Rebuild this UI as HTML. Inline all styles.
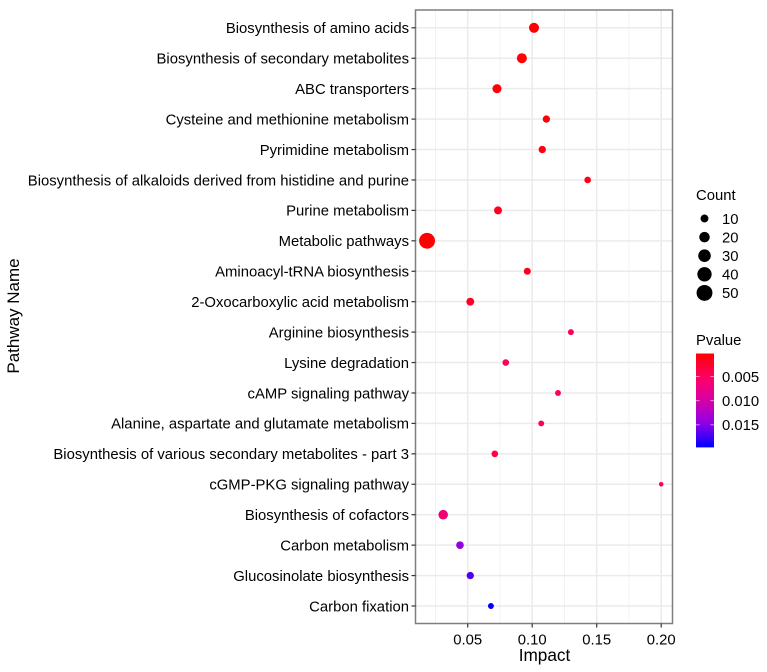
<!DOCTYPE html>
<html>
<head>
<meta charset="utf-8">
<title>Pathway enrichment bubble chart</title>
<style>
html,body{margin:0;padding:0;background:#fff;}
svg{display:block;font-family:"Liberation Sans",Arial,sans-serif;}
</style>
</head>
<body>
<svg id="chart" width="767" height="672" viewBox="0 0 767 672" xmlns="http://www.w3.org/2000/svg">
  <rect x="0" y="0" width="767" height="672" fill="#ffffff"/>
  <g id="grid"></g>
  <g id="points"></g>
  <rect x="415.5" y="10" width="257" height="613.5" fill="none" stroke="#7f7f7f" stroke-width="1.5"/>
  <g id="yaxis"></g>
  <g id="xaxis"></g>
  <text transform="translate(19,316) rotate(-90)" text-anchor="middle" font-size="17" fill="#000">Pathway Name</text>
  <text x="544.5" y="661" text-anchor="middle" font-size="17.2" fill="#000">Impact</text>
  <g id="size-legend">
    <text x="696" y="200" font-size="14.85" fill="#000">Count</text>
  </g>
  <g id="color-legend">
    <text x="696" y="345" font-size="14.85" fill="#000">Pvalue</text>
  </g>
</svg>
<script>
const categories = [
  "Biosynthesis of amino acids",
  "Biosynthesis of secondary metabolites",
  "ABC transporters",
  "Cysteine and methionine metabolism",
  "Pyrimidine metabolism",
  "Biosynthesis of alkaloids derived from histidine and purine",
  "Purine metabolism",
  "Metabolic pathways",
  "Aminoacyl-tRNA biosynthesis",
  "2-Oxocarboxylic acid metabolism",
  "Arginine biosynthesis",
  "Lysine degradation",
  "cAMP signaling pathway",
  "Alanine, aspartate and glutamate metabolism",
  "Biosynthesis of various secondary metabolites - part 3",
  "cGMP-PKG signaling pathway",
  "Biosynthesis of cofactors",
  "Carbon metabolism",
  "Glucosinolate biosynthesis",
  "Carbon fixation"
];
const impactValues = [0.1014,0.0920,0.0727,0.1110,0.1078,0.1430,0.0735,0.0185,0.0962,0.0520,0.1300,0.0795,0.1200,0.1070,0.0710,0.2000,0.0310,0.0440,0.0520,0.0680];
const countValues = [18,18,14,8,8,6,10,50,7,10,4,6,4,4,6,1,16,9,8,4];
const pvalueValues = [0.0003,0.0004,0.0006,0.0008,0.0010,0.0012,0.0016,0.0003,0.0018,0.0020,0.0040,0.0042,0.0044,0.0046,0.0035,0.0048,0.0065,0.0142,0.0168,0.0196];
const xTickValues = [0.05,0.10,0.15,0.20];
const xTickLabels = ["0.05","0.10","0.15","0.20"];
const xMinorValues = [0.025,0.075,0.125,0.175];
const countLegendValues = [10,20,30,40,50];
const countLegendLabels = ["10","20","30","40","50"];
const pvalueLegendValues = [0.005,0.010,0.015];
const pvalueLegendLabels = ["0.005","0.010","0.015"];
const pvalueRange = [0.0002,0.0196];

const NS = "http://www.w3.org/2000/svg";
function mk(parent, tag, attrs, txt){
  const e = document.createElementNS(NS, tag);
  for (const k in attrs) e.setAttribute(k, attrs[k]);
  if (txt !== undefined) e.textContent = txt;
  parent.appendChild(e);
  return e;
}
const xScale = v => 467.7 + (v - 0.05) * 1290;
const yScale = i => 27.8 + i * (606 - 27.8) / (categories.length - 1);
const rScale = c => Math.sqrt(4 + 1.18 * c);
const legendY = v => 353.5 + (v - pvalueRange[0]) / (pvalueRange[1] - pvalueRange[0]) * 93.5;

/* colour ramp */
const RAMP = [[255,0,0],[255,0,100],[215,0,165],[140,0,235],[0,0,255]];
function colorScale(p){
  const t=Math.max(0,Math.min(1,(p-pvalueRange[0])/(pvalueRange[1]-pvalueRange[0])))*(RAMP.length-1);
  const i=Math.min(RAMP.length-2,Math.floor(t)), f=t-i;
  const c=RAMP[i].map((a,k)=>Math.round(a+(RAMP[i+1][k]-a)*f));
  return "rgb("+c.join(",")+")";
}

const grid = document.getElementById("grid");
xMinorValues.forEach(v => {
  const l = mk(grid,"line",{x1:xScale(v),x2:xScale(v),y1:10,y2:623.5,stroke:"#efefef","stroke-width":0.8});
  
  
});
xTickValues.forEach(v => {
  const l = mk(grid,"line",{x1:xScale(v),x2:xScale(v),y1:10,y2:623.5,stroke:"#ebebeb","stroke-width":1.5});
  
  
});
categories.forEach((c,i) => {
  const l = mk(grid,"line",{x1:415.5,x2:672.5,y1:yScale(i),y2:yScale(i),stroke:"#ebebeb","stroke-width":1.5});
  
  
});

const yaxis = document.getElementById("yaxis");
categories.forEach((c,i) => {
  const t = mk(yaxis,"line",{x1:411.5,x2:415.5,y1:yScale(i),y2:yScale(i),stroke:"#333","stroke-width":1.2});
  
  
  const l = mk(yaxis,"text",{x:409,y:yScale(i)+5.3,"text-anchor":"end","font-size":14.85,fill:"#000"},c);
  
  
});

const xaxis = document.getElementById("xaxis");
xTickValues.forEach((v,i) => {
  const t = mk(xaxis,"line",{x1:xScale(v),x2:xScale(v),y1:623.5,y2:627.5,stroke:"#333","stroke-width":1.2});
  
  
  const l = mk(xaxis,"text",{x:xScale(v),y:644.5,"text-anchor":"middle","font-size":14.85,fill:"#000"},xTickLabels[i]);
  
  
});

const points = document.getElementById("points");
categories.forEach((c,i) => {
  const p = mk(points,"circle",{cx:xScale(impactValues[i]),cy:yScale(i),r:rScale(countValues[i]),fill:colorScale(pvalueValues[i])});
  
  
});

const sizeLegend = document.getElementById("size-legend");
countLegendValues.forEach((v,i) => {
  const y = 218.5 + i * 18.6;
  const d = mk(sizeLegend,"circle",{cx:704.5,cy:y,r:rScale(v),fill:"#000"});
  
  
  const l = mk(sizeLegend,"text",{x:722,y:y+5.3,"font-size":14.85,fill:"#000"},countLegendLabels[i]);
  
  
});

const colorLegend = document.getElementById("color-legend");
const BAR_STEPS = 47;
for (let s = 0; s < BAR_STEPS; s++){
  const v = pvalueRange[0] + (pvalueRange[1]-pvalueRange[0]) * (s + 0.5) / BAR_STEPS;
  const h = 93.5 / BAR_STEPS;
  const r = mk(colorLegend,"rect",{x:696,y:353.5+s*h,width:18,height:h+0.4,fill:colorScale(v)});
  
  
}
pvalueLegendValues.forEach((v,i) => {
  const y = legendY(v);
  const a = mk(colorLegend,"line",{x1:696,x2:699.6,y1:y,y2:y,stroke:"#fff","stroke-opacity":0.7,"stroke-width":0.8});
  
  
  const b = mk(colorLegend,"line",{x1:710.4,x2:714,y1:y,y2:y,stroke:"#fff","stroke-opacity":0.7,"stroke-width":0.8});
  
  
  const l = mk(colorLegend,"text",{x:722,y:y+5.3,"font-size":14.85,fill:"#000"},pvalueLegendLabels[i]);
  
  
});
</script>
</body>
</html>
